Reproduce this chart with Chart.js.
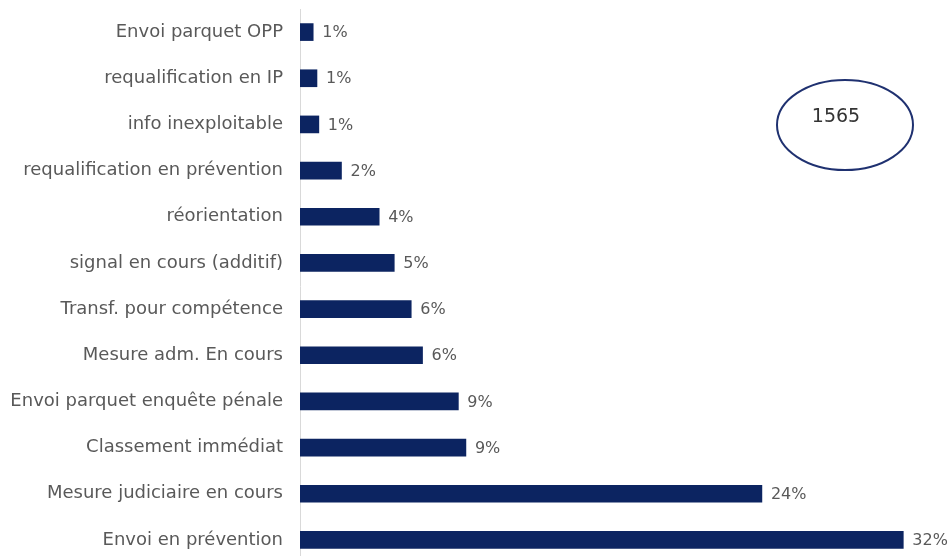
<!DOCTYPE html>
<html>
<head>
<meta charset="utf-8">
<script src="https://cdn.jsdelivr.net/npm/chart.js@4/dist/chart.umd.min.js"></script>
<style>
  html, body { margin: 0; padding: 0; background: #fff; overflow: hidden; }
</style>
</head>
<body>
<canvas id="barChart" width="949" height="570"></canvas>
<script>
var categories = [
  "Envoi parquet OPP",
  "requalification en IP",
  "info inexploitable",
  "requalification en prévention",
  "réorientation",
  "signal en cours (additif)",
  "Transf. pour compétence",
  "Mesure adm. En cours",
  "Envoi parquet enquête pénale",
  "Classement immédiat",
  "Mesure judiciaire en cours",
  "Envoi en prévention"
];
var values = [0.7, 0.9, 1.0, 2.2, 4.2, 5.0, 5.9, 6.5, 8.4, 8.8, 24.5, 32.0];
var valueLabels = ["1%", "1%", "1%", "2%", "4%", "5%", "6%", "6%", "9%", "9%", "24%", "32%"];
var total = "1565";

var fontFam = "'DejaVu Sans', sans-serif";

var valueLabelPlugin = {
  id: 'valueLabels',
  afterDatasetsDraw: function(chart) {
    var ctx = chart.ctx;
    var meta = chart.getDatasetMeta(0);
    ctx.save();
    ctx.font = "16px " + fontFam;
    ctx.fillStyle = "#595959";
    ctx.textBaseline = "middle";
    ctx.textAlign = "left";
    meta.data.forEach(function(bar, i) {
      ctx.fillText(valueLabels[i], bar.x + 9, bar.y + 1);
    });
    ctx.restore();
  }
};

var totalBubble = {
  id: 'totalBubble',
  afterDraw: function(chart) {
    var ctx = chart.ctx;
    ctx.save();
    ctx.beginPath();
    ctx.ellipse(845, 125, 68, 45, 0, 0, Math.PI * 2);
    ctx.strokeStyle = "#1f3170";
    ctx.lineWidth = 2;
    ctx.stroke();
    ctx.font = "19px " + fontFam;
    ctx.fillStyle = "#333333";
    ctx.textAlign = "center";
    ctx.textBaseline = "middle";
    ctx.fillText(total, 836, 117);
    ctx.restore();
  }
};

var ctxB = document.getElementById("barChart").getContext('2d');
var myBarChart = new Chart(ctxB, {
  type: 'bar',
  data: {
    labels: categories,
    datasets: [
      {
        data: values,
        backgroundColor: "#0c2461",
        barThickness: 17
      }
    ]
  },
  options: {
    indexAxis: 'y',
    responsive: false,
    animation: false,
    layout: { padding: { top: 0, bottom: 0, left: 0, right: 8 } },
    plugins: {
      legend: { display: false },
      tooltip: { enabled: false }
    },
    scales: {
      x: {
        display: false,
        min: 0,
        max: 34
      },
      y: {
        grid: { display: false, drawTicks: false },
        border: { display: true, color: "#d9d9d9", width: 1 },
        ticks: {
          color: "#595959",
          padding: 17,
          font: { family: fontFam, size: 18 }
        },
        afterFit: function(scale) {
          scale.width = 300;
          scale.paddingTop = 9;
          scale.paddingBottom = 7;
        }
      }
    }
  },
  plugins: [valueLabelPlugin, totalBubble]
});
</script>
</body>
</html>
